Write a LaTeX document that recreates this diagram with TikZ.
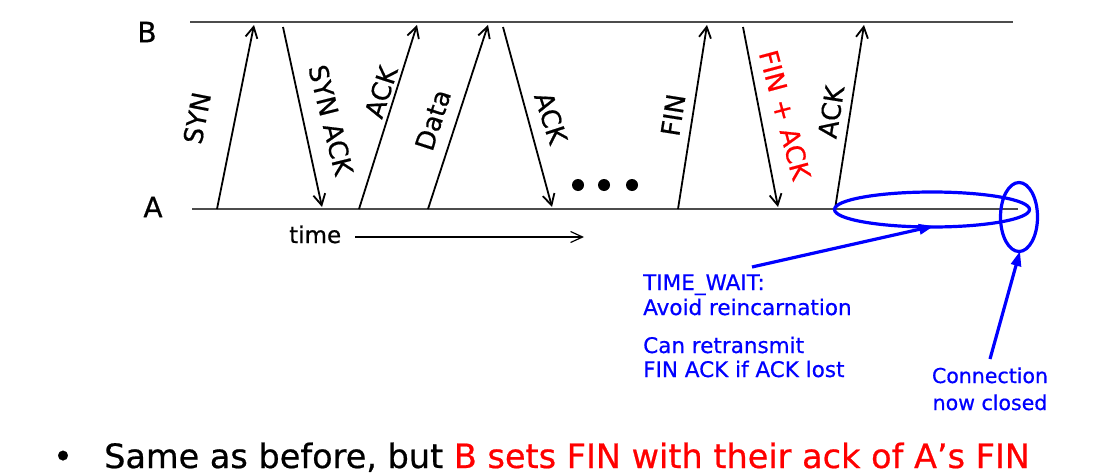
\documentclass[tikz,border=0pt]{standalone}
\usepackage{fontspec}
\setmainfont{DejaVu Sans}[BoldFont=DejaVu Sans, BoldFeatures={FakeBold=0.6}]
\usetikzlibrary{arrows.meta,shapes.geometric}
\definecolor{pblue}{RGB}{0,0,255}
\definecolor{pred}{RGB}{255,0,0}
\tikzset{
  timeline/.style={draw=black!70, line width=1.6pt},
  msg/.style={draw=black, line width=1.8pt, -{Straight Barb[length=11pt,width=12pt,line width=1.8pt]}},
  lbl/.style={inner sep=0pt, font=\bfseries\fontsize{26}{28}\selectfont},
  side/.style={inner sep=0pt, font=\bfseries\fontsize{28}{30}\selectfont},
  bluetxt/.style={inner sep=0pt, text=pblue, font=\bfseries\fontsize{21.5}{25}\selectfont},
  bluearrow/.style={draw=pblue, line width=3.2pt, -{Triangle[length=15pt,width=10pt]}},
  blueloop/.style={draw=pblue, line width=3.2pt},
  dotmark/.style={circle, fill=black, inner sep=0pt, minimum size=12pt},
}
\begin{document}
\begin{tikzpicture}[x=1pt,y=-1pt]
\useasboundingbox (0,0) rectangle (1110,474);
% time lines
\coordinate (B0) at (190,22);
\coordinate (B1) at (1013,22);
\coordinate (A0) at (192,209);
\coordinate (A1) at (1018,209);
\draw[timeline] (B0) -- (B1);
\draw[timeline] (A0) -- (A1);
\node[side] (Blab) at (147,32) {B};
\node[side] (Alab) at (153,207) {A};
% time arrow
\node[inner sep=0pt, font=\bfseries\fontsize{23}{25}\selectfont, anchor=base west] (time) at (289,243) {time};
\coordinate (te) at (584,237);
\draw[black, line width=1.2pt, -{Straight Barb[length=12pt,width=11pt,line width=1.2pt]}] (355,237) -- (te);
% message endpoints
\coordinate (s0) at (217,209); \coordinate (s1) at (254,25);
\coordinate (sa0) at (283,27); \coordinate (sa1) at (322,207);
\coordinate (a0) at (359,209); \coordinate (a1) at (417,25);
\coordinate (d0) at (428,209); \coordinate (d1) at (488,25);
\coordinate (k0) at (503,27); \coordinate (k1) at (552,207);
\coordinate (f0) at (678,209); \coordinate (f1) at (707,25);
\coordinate (fa0) at (743,27); \coordinate (fa1) at (778,207);
\coordinate (e0) at (835,209); \coordinate (e1) at (864,25);
\draw[msg] (s0) -- (s1);
\draw[msg] (sa0) -- (sa1);
\draw[msg] (a0) -- (a1);
\draw[msg] (d0) -- (d1);
\draw[msg] (k0) -- (k1);
\draw[msg] (f0) -- (f1);
\draw[msg] (fa0) -- (fa1);
\draw[msg] (e0) -- (e1);
% labels
\node[lbl, rotate=79] (synl) at (197,118) {SYN};
\node[lbl, rotate=-76] (synackl) at (331,120) {SYN ACK};
\node[lbl, rotate=72] (ackl) at (381,92) {ACK};
\node[lbl, rotate=72] (datal) at (433,120) {Data};
\node[lbl, rotate=-72] (ack2l) at (551,118) {ACK};
\node[lbl, rotate=81] (finl) at (673,115) {FIN};
\node[lbl, rotate=-75, text=pred] (finackl) at (785,115) {FIN + ACK};
\node[lbl, rotate=81] (ack3l) at (831,112) {ACK};
% dots
\node[dotmark] (dt1) at (578,185) {};
\node[dotmark] (dt2) at (604,185) {};
\node[dotmark] (dt3) at (632,185) {};
% blue ellipses
\node[blueloop, ellipse, draw, minimum width=195pt, minimum height=35pt, inner sep=0pt] (tw) at (932,209.5) {};
\node[blueloop, ellipse, draw, minimum width=37pt, minimum height=69pt, inner sep=0pt] (cl) at (1019,217) {};
% blue text
\node[bluetxt, anchor=base west] (t1) at (643,290) {TIME\_WAIT:};
\node[bluetxt, anchor=base west] (t2) at (643,315) {Avoid reincarnation};
\node[bluetxt, anchor=base west] (t3) at (643,353) {Can retransmit};
\node[bluetxt, anchor=base west] (t4) at (643,377) {FIN ACK if ACK lost};
\node[bluetxt, anchor=base, font=\bfseries\fontsize{20.5}{25}\selectfont] (c1) at (990,383) {Connection};
\node[bluetxt, anchor=base, font=\bfseries\fontsize{20.5}{25}\selectfont] (c2) at (990,410) {now closed};
\coordinate (twtail) at (752,267);
\coordinate (twhead) at (934,226);
\coordinate (cltail) at (990,359);
\coordinate (clhead) at (1020,251);
\draw[bluearrow] (twtail) -- (twhead);
\draw[bluearrow] (cltail) -- (clhead);
% bottom line
\node[inner sep=0pt, font=\bfseries\fontsize{33.5}{35}\selectfont, anchor=base] (bul) at (63,468) {•};
\node[inner sep=0pt, font=\bfseries\fontsize{33.5}{35}\selectfont, anchor=base west] (bottom) at (104,468) {Same as before, but \textcolor{pred}{B sets FIN with their ack of A's FIN}};
\end{tikzpicture}
\end{document}
